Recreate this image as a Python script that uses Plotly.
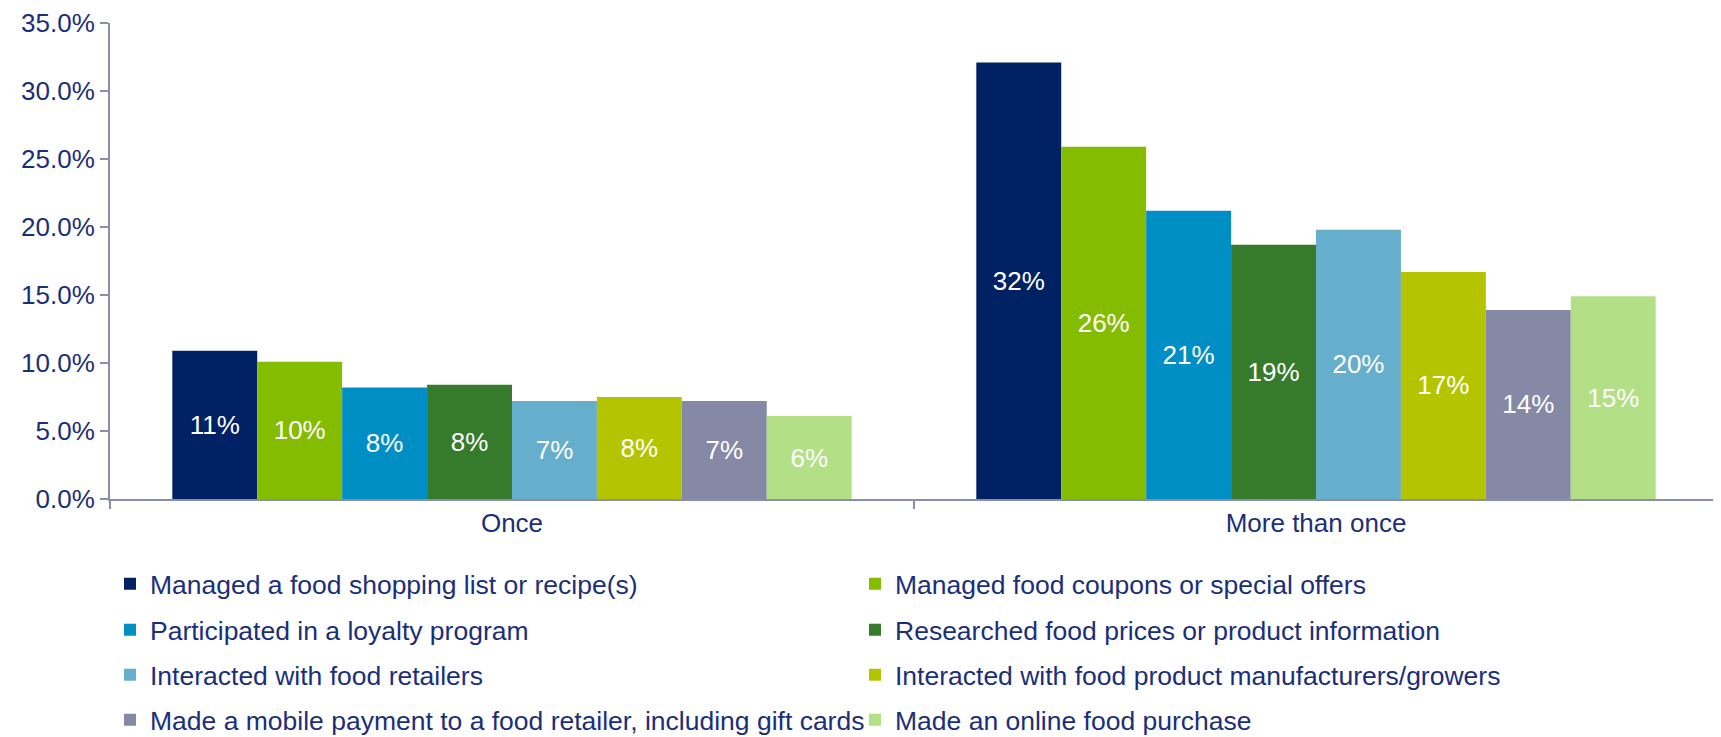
import plotly.graph_objects as go

categories = ["Once", "More than once"]
series_names = [
    "Managed a food shopping list or recipe(s)",
    "Managed food coupons or special offers",
    "Participated in a loyalty program",
    "Researched food prices or product information",
    "Interacted with food retailers",
    "Interacted with food product manufacturers/growers",
    "Made a mobile payment to a food retailer, including gift cards",
    "Made an online food purchase",
]
once_values = [0.109, 0.101, 0.082, 0.084, 0.072, 0.075, 0.072, 0.061]
more_values = [0.321, 0.259, 0.212, 0.187, 0.198, 0.167, 0.139, 0.149]
colors = ["#002163", "#84BC00", "#008FC5", "#367A2B", "#65AECC", "#B4C500", "#8589A5", "#B3DF87"]
y_ticks = [0, 0.05, 0.10, 0.15, 0.20, 0.25, 0.30, 0.35]

NAVY = "#1B2F78"
AXIS = "#8A8EAE"
FONT = "Liberation Sans, Arial, sans-serif"

legend_ids = ["legend", "legend2", "legend3", "legend4"]

fig = go.Figure()
for i, name in enumerate(series_names):
    fig.add_trace(go.Bar(
        name=name,
        x=categories,
        y=[once_values[i], more_values[i]],
        marker=dict(color=colors[i], line=dict(width=0)),
        texttemplate="%{y:.0%}",
        textposition="inside",
        insidetextanchor="middle",
        textangle=0,
        textfont=dict(color="white", size=26, family=FONT),
        legend=legend_ids[i // 2],
        hovertemplate="%{x}: %{y:.1%}<extra>" + name + "</extra>",
    ))

# plot area: top at fig y=15, bottom at fig y=491 (height 476)
row_tops = [-0.1282, -0.2248, -0.3193, -0.4139]
legend_common = dict(
    orientation="h",
    x=0.0, xanchor="left",
    yanchor="top",
    entrywidth=700,
    font=dict(size=26.5, color=NAVY, family=FONT),
    itemwidth=30,
    traceorder="normal",
    bgcolor="rgba(0,0,0,0)",
)

fig.update_layout(
    width=1721, height=737,
    barmode="group",
    bargap=0.155,
    bargroupgap=0,
    plot_bgcolor="white",
    paper_bgcolor="white",
    font=dict(family=FONT, size=26, color=NAVY),
    margin=dict(l=102, r=11, t=15, b=246, autoexpand=False),
    showlegend=True,
    legend=dict(y=row_tops[0], **legend_common),
    legend2=dict(y=row_tops[1], **legend_common),
    legend3=dict(y=row_tops[2], **legend_common),
    legend4=dict(y=row_tops[3], **legend_common),
)
fig.update_xaxes(
    showline=True, linecolor=AXIS, linewidth=2,
    ticks="outside", tickson="boundaries", ticklen=8, tickcolor=AXIS, tickwidth=2,
    tickfont=dict(size=26, color=NAVY),
    showgrid=False, automargin=False, ticklabeloverflow="allow",
)
fig.update_yaxes(
    range=[0, 0.35], tickvals=y_ticks, tickformat=".1%",
    showline=True, linecolor=AXIS, linewidth=2,
    ticks="outside", ticklen=8, tickcolor=AXIS, tickwidth=2,
    tickfont=dict(size=26, color=NAVY),
    showgrid=False, zeroline=False, automargin=False, ticklabeloverflow="allow",
)

fig.write_html("out.html")
